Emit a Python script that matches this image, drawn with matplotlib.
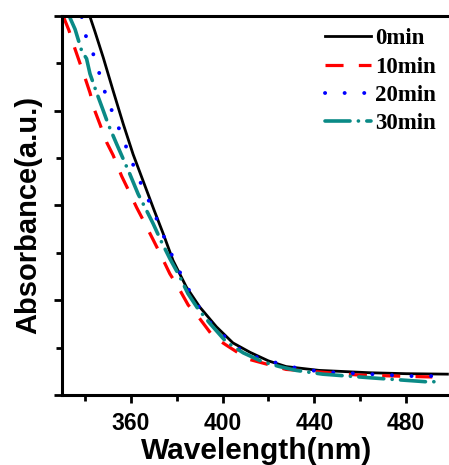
import matplotlib
matplotlib.use("Agg")
import matplotlib.pyplot as plt
from matplotlib.ticker import MultipleLocator

plt.rcParams['lines.scale_dashes'] = False

# 0min (black solid)
wl_0 = [342.5, 344.3, 348, 352.3, 356.7, 361, 365.5, 370, 374, 378.4, 384.2, 390, 397.3,
        404.5, 412, 420, 427.7, 442, 464, 480, 498]
ab_0 = [3.97, 3.84, 3.56, 3.21, 2.86, 2.54, 2.25, 1.96, 1.71, 1.42, 1.14, 0.93, 0.72,
        0.55, 0.45, 0.36, 0.30, 0.26, 0.235, 0.225, 0.22]

# 10min (red dashed)
wl_10 = [330.5, 333, 335.7, 340, 342.2, 344.3, 346.5, 349.4, 352.3, 356, 358.8, 362.5, 365.3,
         369.7, 372.6, 377, 380.6, 385, 389.3, 395.8, 402, 411, 427.7, 459.6, 491.4]
ab_10 = [4.0, 3.85, 3.65, 3.35, 3.19, 3.0, 2.86, 2.67, 2.53, 2.31, 2.17, 1.98, 1.85,
         1.64, 1.50, 1.28, 1.14, 0.95, 0.83, 0.62, 0.52, 0.38, 0.27, 0.21, 0.19]

# 20min (blue dotted)
wl_20 = [338.6, 340.4, 343.6, 346.2, 348.8, 351.9, 355.2, 358.6, 362, 365.5, 369.4, 372.9,
         376.5, 380.3, 384.6, 389, 395.1, 403.8, 410.5, 429.1, 438.6, 447.3, 456, 464.6,
         473.3, 482, 491]
ab_20 = [3.99, 3.79, 3.60, 3.40, 3.19, 2.99, 2.79, 2.58, 2.37, 2.17, 1.97, 1.76,
         1.55, 1.35, 1.14, 0.95, 0.75, 0.55, 0.43, 0.30, 0.26, 0.24, 0.23, 0.22,
         0.21, 0.20, 0.20]

# 30min (teal dash-dot)
wl_30 = [333.5, 335.7, 338.6, 340.7, 342.2, 345.1, 347.7, 350.1, 353.8, 356.7, 359.6, 363.2,
         366.6, 369.7, 373.3, 377, 381.3, 384.9, 389, 394.3, 401.6, 409, 417.5, 424.8,
         432, 443.6, 454.5, 465.3, 477, 488.6, 493.5]
ab_30 = [3.98, 3.86, 3.63, 3.55, 3.39, 3.19, 3.02, 2.86, 2.65, 2.49, 2.33, 2.12,
         1.96, 1.81, 1.62, 1.44, 1.25, 1.07, 0.92, 0.76, 0.56, 0.445, 0.35, 0.30,
         0.26, 0.22, 0.20, 0.18, 0.16, 0.14, 0.14]

labels = ['0min', '10min', '20min', '30min']

fig = plt.figure(figsize=(4.49, 4.65), dpi=100)
ax = fig.add_axes([62/449, 70/465, 390/449, 379/465])

ax.plot(wl_0, ab_0, color='black', lw=2.0, label=labels[0])
l1, = ax.plot(wl_10, ab_10, color='red', lw=2.3, label=labels[1])
l1.set_dashes((13, 11))
l2, = ax.plot(wl_20, ab_20, color='blue', lw=2.8, label=labels[2])
l2.set_dashes((0.1, 14))
l2.set_dash_capstyle('round')
l3, = ax.plot(wl_30, ab_30, color='#0a8a86', lw=2.6, label=labels[3])
l3.set_dashes((18, 6, 0.1, 6))
l3.set_dash_capstyle('round')

ax.set_xlim(330, 500)
ax.set_ylim(0, 4)
ax.xaxis.set_minor_locator(MultipleLocator(20))
ax.yaxis.set_major_locator(MultipleLocator(1))
ax.yaxis.set_minor_locator(MultipleLocator(0.5))
ax.set_xticks([360, 400, 440, 480])
ax.set_yticklabels([])
ax.tick_params(which='major', direction='out', length=6, width=2, pad=6)
ax.tick_params(which='minor', direction='out', length=4, width=2)
for lab in ax.get_xticklabels():
    lab.set_fontfamily('Liberation Sans')
    lab.set_fontweight('bold')
    lab.set_fontsize(16.5)
for s in ax.spines.values():
    s.set_linewidth(2.2)

ax.set_xlabel('Wavelength(nm)', fontfamily='Liberation Sans', fontweight='bold', fontsize=21.5, labelpad=2)
ax.set_ylabel('Absorbance(a.u.)', fontfamily='Liberation Sans', fontweight='bold', fontsize=21)
ax.yaxis.set_label_coords(-0.05, 0.475)

leg = ax.legend(loc='upper left', bbox_to_anchor=(0.674, 0.968), frameon=False,
                handlelength=2.0, handletextpad=0.2, labelspacing=0.32, borderpad=0,
                borderaxespad=0,
                prop={'family': 'Liberation Serif', 'weight': 'bold', 'size': 16.5})

fig.savefig('out.png', dpi=100)
